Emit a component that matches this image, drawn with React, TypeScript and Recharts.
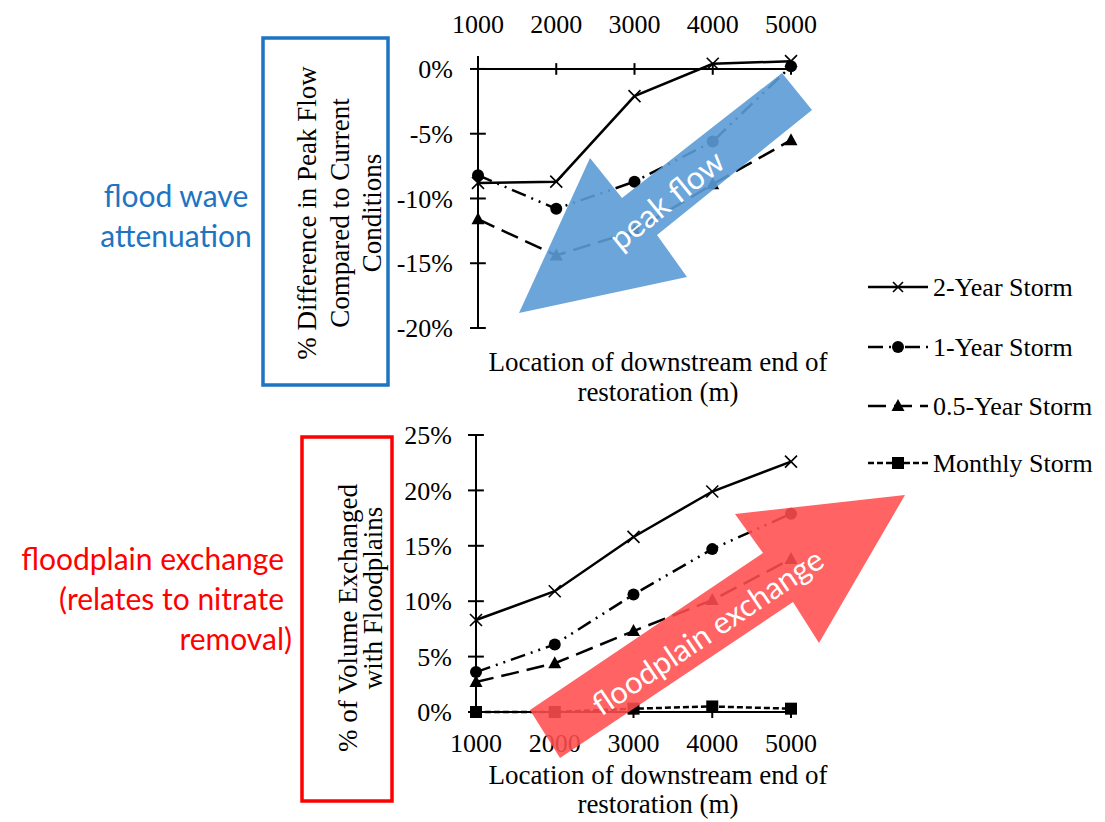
import React from 'react'
import { LineChart, Line, XAxis, YAxis, ReferenceLine } from 'recharts'

const locations = [1000, 2000, 3000, 4000, 5000]
const seriesNames = ['2-Year Storm', '1-Year Storm', '0.5-Year Storm', 'Monthly Storm']

// % difference in peak flow compared to current conditions
const peakTwoYear = [-8.8, -8.7, -2.1, 0.4, 0.6]
const peakOneYear = [-8.2, -10.8, -8.7, -5.6, 0.2]
const peakHalfYear = [-11.6, -14.4, -12.5, -8.9, -5.5]

// % of volume exchanged with floodplains
const volTwoYear = [8.3, 10.9, 15.8, 19.9, 22.6]
const volOneYear = [3.6, 6.1, 10.6, 14.7, 17.9]
const volHalfYear = [2.7, 4.4, 7.3, 10.1, 13.8]
const volMonthly = [0, 0, 0.3, 0.5, 0.3]

const peakTicks = [0, -5, -10, -15, -20]
const volTicks = [0, 5, 10, 15, 20, 25]

const peakData = locations.map((loc, i) => ({
  loc,
  two: peakTwoYear[i],
  one: peakOneYear[i],
  half: peakHalfYear[i],
}))

const volData = locations.map((loc, i) => ({
  loc,
  two: volTwoYear[i],
  one: volOneYear[i],
  half: volHalfYear[i],
  monthly: volMonthly[i],
}))

const SERIF = '"Liberation Serif", "Times New Roman", serif'
const SANS = 'Lato, "Open Sans", sans-serif'
const BLUE = '#1E74C2'
const RED = '#FF0000'

const DASH_ONE = '15 6 2 6 2 6'
const DASH_HALF = '18 8'
const DASH_MONTHLY = '6 3'

function crossPath(cx: number, cy: number, s = 6) {
  return `M${cx - s},${cy - s}L${cx + s},${cy + s}M${cx - s},${cy + s}L${cx + s},${cy - s}`
}

const CrossDot = (p: any) => {
  if (p.cx == null || p.cy == null) return <g key={p.key} />
  return <path key={p.key} d={crossPath(p.cx, p.cy)} stroke="#000" strokeWidth={1.6} fill="none" />
}
const CircleDot = (p: any) => {
  if (p.cx == null || p.cy == null) return <g key={p.key} />
  return <circle key={p.key} cx={p.cx} cy={p.cy} r={6} fill="#000" />
}
const TriangleDot = (p: any) => {
  if (p.cx == null || p.cy == null) return <g key={p.key} />
  const { cx, cy } = p
  return <polygon key={p.key} points={`${cx},${cy - 7} ${cx - 6.5},${cy + 5} ${cx + 6.5},${cy + 5}`} fill="#000" />
}
const SquareDot = (p: any) => {
  if (p.cx == null || p.cy == null) return <g key={p.key} />
  return <rect key={p.key} x={p.cx - 6} y={p.cy - 6} width={12} height={12} fill="#000" />
}

const tickStyle = { fill: '#000', fontSize: 26, fontFamily: SERIF }
const axisLine = { stroke: '#000', strokeWidth: 2 }
const pct = (v: number) => `${v}%`

function PeakChart() {
  return (
    <LineChart
      width={520}
      height={352}
      data={peakData}
      margin={{ top: 16, right: 29, bottom: 24, left: 118 }}
      style={{ position: 'absolute', left: 300, top: 0 }}
    >
      <XAxis
        dataKey="loc"
        type="number"
        domain={[1000, 5000]}
        ticks={locations}
        interval={0}
        orientation="top"
        height={40}
        axisLine={false}
        tickLine={false}
        tickMargin={17}
        tick={tickStyle}
      />
      <YAxis
        type="number"
        domain={[-20, 1]}
        ticks={peakTicks}
        interval={0}
        width={60}
        axisLine={axisLine}
        tickLine={axisLine}
        tickSize={8}
        tickMargin={17}
        tickFormatter={pct}
        tick={tickStyle}
      />
      <ReferenceLine y={0} stroke="#000" strokeWidth={2} />
      {locations.slice(1).map((x) => (
        <ReferenceLine key={'vt' + x} segment={[{ x, y: -0.45 }, { x, y: 0.45 }]} stroke="#000" strokeWidth={2} />
      ))}
      {peakTicks.map((v) => (
        <ReferenceLine key={'ht' + v} segment={[{ x: 1000, y: v }, { x: 1100, y: v }]} stroke="#000" strokeWidth={2} />
      ))}
      <Line type="linear" dataKey="two" name={seriesNames[0]} stroke="#000" strokeWidth={2.5} dot={CrossDot} isAnimationActive={false} />
      <Line type="linear" dataKey="one" name={seriesNames[1]} stroke="#000" strokeWidth={2.5} strokeDasharray={DASH_ONE} dot={CircleDot} isAnimationActive={false} />
      <Line type="linear" dataKey="half" name={seriesNames[2]} stroke="#000" strokeWidth={2.5} strokeDasharray={DASH_HALF} dot={TriangleDot} isAnimationActive={false} />
    </LineChart>
  )
}

function VolumeChart() {
  return (
    <LineChart
      width={520}
      height={340}
      data={volData}
      margin={{ top: 15, right: 29, bottom: 8, left: 116 }}
      style={{ position: 'absolute', left: 300, top: 420 }}
    >
      <XAxis
        dataKey="loc"
        type="number"
        domain={[1000, 5000]}
        ticks={locations}
        interval={0}
        height={40}
        axisLine={axisLine}
        tickLine={axisLine}
        tickSize={6}
        tickMargin={16}
        tick={tickStyle}
      />
      <YAxis
        type="number"
        domain={[0, 25]}
        ticks={volTicks}
        interval={0}
        width={60}
        axisLine={axisLine}
        tickLine={axisLine}
        tickSize={8}
        tickMargin={16}
        tickFormatter={pct}
        tick={tickStyle}
      />
      {volTicks.map((v) => (
        <ReferenceLine key={'ht' + v} segment={[{ x: 1000, y: v }, { x: 1100, y: v }]} stroke="#000" strokeWidth={2} />
      ))}
      <Line type="linear" dataKey="two" name={seriesNames[0]} stroke="#000" strokeWidth={2.5} dot={CrossDot} isAnimationActive={false} />
      <Line type="linear" dataKey="one" name={seriesNames[1]} stroke="#000" strokeWidth={2.5} strokeDasharray={DASH_ONE} dot={CircleDot} isAnimationActive={false} />
      <Line type="linear" dataKey="half" name={seriesNames[2]} stroke="#000" strokeWidth={2.5} strokeDasharray={DASH_HALF} dot={TriangleDot} isAnimationActive={false} />
      <Line type="linear" dataKey="monthly" name={seriesNames[3]} stroke="#000" strokeWidth={2.5} strokeDasharray={DASH_MONTHLY} dot={SquareDot} isAnimationActive={false} />
    </LineChart>
  )
}

function LegendBox() {
  const rows = [
    { dash: undefined, marker: 'cross' },
    { dash: DASH_ONE, marker: 'circle' },
    { dash: DASH_HALF, marker: 'triangle' },
    { dash: DASH_MONTHLY, marker: 'square' },
  ]
  const rowY = [287, 347, 406, 463]
  return (
    <svg width={1105} height={822} style={{ position: 'absolute', left: 0, top: 0, pointerEvents: 'none' }}>
      {rows.map((r, i) => {
        const y = rowY[i]
        const mx = 898
        return (
          <g key={i}>
            <line x1={868} x2={928} y1={y} y2={y} stroke="#000" strokeWidth={2.5} strokeDasharray={r.dash} />
            {r.marker === 'cross' && <path d={crossPath(mx, y, 5)} stroke="#000" strokeWidth={1.6} fill="none" />}
            {r.marker === 'circle' && <circle cx={mx} cy={y} r={6} fill="#000" />}
            {r.marker === 'triangle' && <polygon points={`${mx},${y - 7} ${mx - 6.5},${y + 5} ${mx + 6.5},${y + 5}`} fill="#000" />}
            {r.marker === 'square' && <rect x={mx - 6} y={y - 6} width={12} height={12} fill="#000" />}
            <text x={933} y={y + 9} fontFamily={SERIF} fontSize={26} fill="#000">{seriesNames[i]}</text>
          </g>
        )
      })}
    </svg>
  )
}

function Annotations() {
  return (
    <svg width={1105} height={822} style={{ position: 'absolute', left: 0, top: 0, pointerEvents: 'none' }}>
      {/* axis titles */}
      <g fontFamily={SERIF} fontSize={27} fill="#000" textAnchor="middle">
        <text x={658} y={371}>Location of downstream end of</text>
        <text x={658} y={401}>restoration (m)</text>
        <text x={658} y={784}>Location of downstream end of</text>
        <text x={658} y={813}>restoration (m)</text>
        <text transform="translate(316,213) rotate(-90)">% Difference in Peak Flow</text>
        <text transform="translate(349,213) rotate(-90)">Compared to Current</text>
        <text transform="translate(381,213) rotate(-90)">Conditions</text>
        <text transform="translate(357,618) rotate(-90)">% of Volume Exchanged</text>
        <text transform="translate(382,598) rotate(-90)">with Floodplains</text>
      </g>

      {/* frames */}
      <rect x={263} y={38} width={125} height={347} fill="none" stroke={BLUE} strokeWidth={3.5} />
      <rect x={302} y={437} width={90} height={364} fill="none" stroke={RED} strokeWidth={3.5} />

      {/* side notes */}
      <g fontFamily={SANS} fontSize={30} fill={BLUE} textAnchor="middle">
        <text x={176} y={207}>flood wave</text>
        <text x={176} y={247}>attenuation</text>
      </g>
      <g fontFamily={SANS} fontSize={30} fill={RED} textAnchor="end">
        <text x={284} y={570}>floodplain exchange</text>
        <text x={284} y={610}>(relates to nitrate</text>
        <text x={292} y={650}>removal)</text>
      </g>

      {/* arrows */}
      <polygon
        points="782,73 812,110 657,235 687,277 519,313 590,158 622,198"
        fill="#5B9BD5"
        fillOpacity={0.9}
      />
      <text
        transform="translate(666,199) rotate(-39)"
        fontFamily={SANS}
        fontSize={32}
        fill="#fff"
        textAnchor="middle"
        dominantBaseline="central"
      >
        peak flow
      </text>
      <polygon
        points="530,710 763,553 735,514 905,495 819,643 793,602 560,758"
        fill="#FF4D4D"
        fillOpacity={0.88}
      />
      <text
        transform="translate(707,631) rotate(-34)"
        fontFamily={SANS}
        fontSize={31}
        fill="#fff"
        textAnchor="middle"
        dominantBaseline="central"
      >
        floodplain exchange
      </text>
    </svg>
  )
}

export default function App() {
  return (
    <div style={{ position: 'absolute', left: 0, top: 0, width: 1105, height: 822, background: '#fff', overflow: 'hidden' }}>
      <PeakChart />
      <VolumeChart />
      <LegendBox />
      <Annotations />
    </div>
  )
}
